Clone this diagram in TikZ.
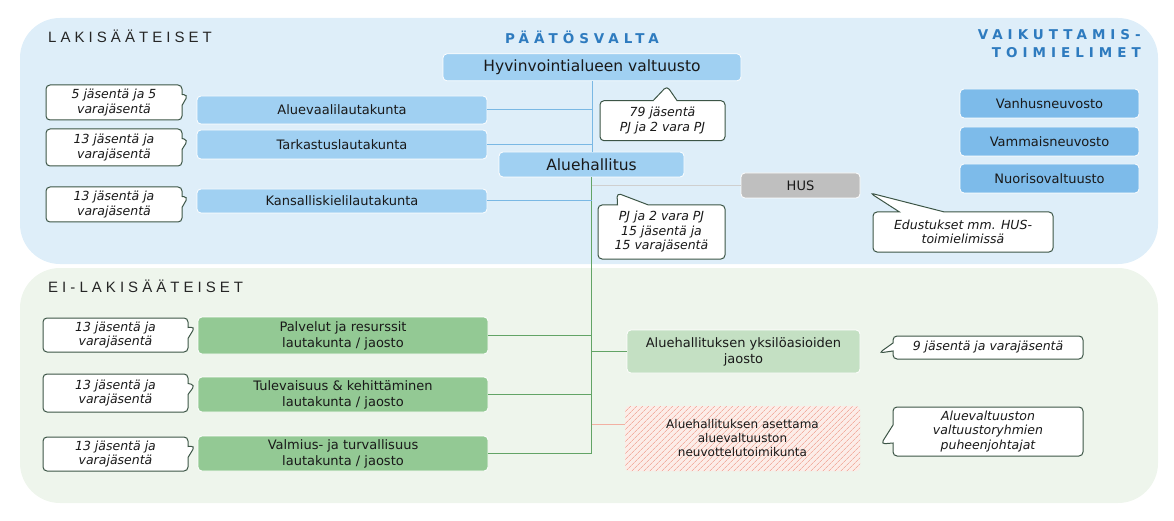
\documentclass[tikz,border=0pt]{standalone}
\usepackage{fontspec}
\setmainfont{DejaVu Sans}
\newfontfamily\headfont{DejaVu Sans}[LetterSpace=37]
\newfontfamily\sectfont{Liberation Sans}[LetterSpace=27]
\usetikzlibrary{shapes.callouts, patterns.meta}
\definecolor{pbcol}{HTML}{DEEEF9}
\definecolor{pgcol}{HTML}{EEF5EC}
\definecolor{bcol}{HTML}{A0D0F2}
\definecolor{dcol}{HTML}{7DBBEA}
\definecolor{gcol}{HTML}{93C994}
\definecolor{lgcol}{HTML}{C4E0C3}
\definecolor{hcol}{HTML}{BFBFBF}
\definecolor{tcol}{HTML}{2E7BBF}
\definecolor{mcol}{HTML}{3C5546}
\definecolor{blcol}{HTML}{7AB8E4}
\definecolor{glcol}{HTML}{62A466}
\definecolor{hlcol}{HTML}{CFCFCF}
\definecolor{rcol}{HTML}{F2B0A2}
\definecolor{rbg}{HTML}{FCEDE8}
\newcommand{\fsz}[2]{\fontsize{#1}{#2}\selectfont}

\begin{document}
\begin{tikzpicture}[x=1pt, y=-1pt,
  box/.style={draw=white, line width=0.8, rounded corners=4, inner sep=2,
    align=center, text=black!90, font=\fsz{13}{16}},
  hatch/.style={rounded corners=4, inner sep=2, align=center, text=black!90,
    font=\fsz{12}{14}, preaction={fill=rbg},
    pattern={Lines[angle=45, distance=4pt, line width=0.8pt]}, pattern color=rcol},
  memo/.style={rectangle callout, draw=mcol, fill=white, line width=1,
    rounded corners=4, inner sep=1, align=center, text=black!90,
    font=\itshape\fsz{12.5}{14.5}},
  sect/.style={inner sep=0, text=black!85, font=\sectfont\fsz{15}{18}},
  head/.style={inner sep=0, text=tcol, font=\headfont\bfseries\fsz{13.5}{18}},
  bline/.style={blcol, line width=1},
  gline/.style={glcol, line width=1.1},
  hline/.style={hlcol, line width=1},
  rline/.style={rcol, line width=1}]

\useasboundingbox (0,0) rectangle (1174,521);
\fill[pbcol, rounded corners=40] (20,18) rectangle (1158,264);
\fill[pgcol, rounded corners=40] (20,268) rectangle (1158,503);

\node[sect, anchor=base west] (lak) at (48,43) {LAKISÄÄTEISET};
\node[sect, anchor=base west] (eilak) at (48,292) {EI-LAKISÄÄTEISET};
\node[head, anchor=base] (paat) at (582,44) {PÄÄTÖSVALTA};
\node[head, anchor=base east, align=right] (vaik) at (1141,58) {VAIKUTTAMIS-\\TOIMIELIMET};

% lakisääteiset
\node[box, fill=bcol, minimum width=298, minimum height=27, font=\fsz{15.5}{18}] (valt) at (592,67.3) {Hyvinvointialueen valtuusto};
\node[box, fill=bcol, minimum width=290, minimum height=28] (avl) at (342,110) {Aluevaalilautakunta};
\node[box, fill=bcol, minimum width=290, minimum height=29] (tark) at (342,144.5) {Tarkastuslautakunta};
\node[box, fill=bcol, minimum width=290, minimum height=24] (kiel) at (342,201) {Kansalliskielilautakunta};
\node[box, fill=bcol, minimum width=185, minimum height=25, font=\fsz{15.5}{18}] (hall) at (591.5,164.5) {Aluehallitus};
\node[box, fill=hcol, minimum width=119, minimum height=25] (hus) at (800.5,185.5) {HUS};

\node[box, fill=dcol, minimum width=179, minimum height=29] (vanh) at (1049.5,103.5) {Vanhusneuvosto};
\node[box, fill=dcol, minimum width=179, minimum height=29] (vamm) at (1049.5,141.5) {Vammaisneuvosto};
\node[box, fill=dcol, minimum width=179, minimum height=29] (nuor) at (1049.5,178.5) {Nuorisovaltuusto};

\node[memo, minimum width=136, minimum height=35, callout pointer width=11, callout absolute pointer={(188,95)}] (m1) at (114,102.5) {5 jäsentä ja 5\\varajäsentä};
\node[memo, minimum width=136, minimum height=37, callout pointer width=11, callout absolute pointer={(188,140)}] (m2) at (114,147.5) {13 jäsentä ja\\varajäsentä};
\node[memo, minimum width=136, minimum height=35, callout pointer width=11, callout absolute pointer={(188,197)}] (m3) at (114,204.5) {13 jäsentä ja\\varajäsentä};
\node[memo, minimum width=125, minimum height=40, callout pointer width=24, callout absolute pointer={(667,86)}] (m79) at (662.5,120.7) {79 jäsentä\\PJ ja 2 vara PJ};
\node[memo, minimum width=127, minimum height=54, callout pointer width=31, callout absolute pointer={(617,193)}] (mpj) at (661.5,232) {PJ ja 2 vara PJ\\15 jäsentä ja\\15 varajäsentä};
\node[memo, minimum width=180, minimum height=40, callout pointer width=45, callout absolute pointer={(870,193)}] (mhus) at (963,232) {Edustukset mm. HUS-\\toimielimissä};

% ei-lakisääteiset
\node[box, fill=gcol, minimum width=290, minimum height=37] (palv) at (343,335.5) {Palvelut ja resurssit\\lautakunta / jaosto};
\node[box, fill=gcol, minimum width=290, minimum height=35] (tule) at (343,394.5) {Tulevaisuus \& kehittäminen\\lautakunta / jaosto};
\node[box, fill=gcol, minimum width=290, minimum height=35] (valm) at (343,453.5) {Valmius- ja turvallisuus\\lautakunta / jaosto};
\node[box, fill=lgcol, minimum width=233, minimum height=43] (yks) at (743.5,351.5) {Aluehallituksen yksilöasioiden\\jaosto};
\node[hatch, minimum width=235, minimum height=65] (neuv) at (742.5,438.5) {Aluehallituksen asettama\\aluevaltuuston\\neuvottelutoimikunta};

\node[memo, minimum width=145, minimum height=34, callout pointer width=11, callout absolute pointer={(195,327)}] (m4) at (115.5,335) {13 jäsentä ja\\varajäsentä};
\node[memo, minimum width=145, minimum height=38, callout pointer width=11, callout absolute pointer={(195,385)}] (m5) at (115.5,393) {13 jäsentä ja\\varajäsentä};
\node[memo, minimum width=145, minimum height=34, callout pointer width=11, callout absolute pointer={(195,446)}] (m6) at (115.5,454) {13 jäsentä ja\\varajäsentä};
\node[memo, minimum width=190, minimum height=23, callout pointer width=8, callout absolute pointer={(879,353)}] (m9) at (988,347.5) {9 jäsentä ja varajäsentä};
\node[memo, minimum width=190, minimum height=49, callout pointer width=18, callout absolute pointer={(881,444)}] (mav) at (988,431.5) {Aluevaltuuston\\valtuustoryhmien\\puheenjohtajat};

% connectors
\draw[bline] (valt.south) -- (valt.south |- hall.north);
\draw[bline] (avl.east) -- (avl.east -| valt.south);
\draw[bline] (tark.east) -- (tark.east -| valt.south);
\draw[gline] (hall.south) -- (hall.south |- valm.east);
\draw[bline] (kiel.east) -- (kiel.east -| hall.south);
\draw[hline] (hall.south |- hus.west) -- (hus.west);
\draw[gline] (palv.east) -- (palv.east -| hall.south);
\draw[gline] (tule.east) -- (tule.east -| hall.south);
\draw[gline] (valm.east) -- (valm.east -| hall.south);
\draw[gline] (hall.south |- yks.west) -- (yks.west);
\coordinate (neuvin) at ([yshift=14.5pt]neuv.west);
\draw[rline] (hall.south |- neuvin) -- (neuvin);

\end{tikzpicture}
\end{document}
